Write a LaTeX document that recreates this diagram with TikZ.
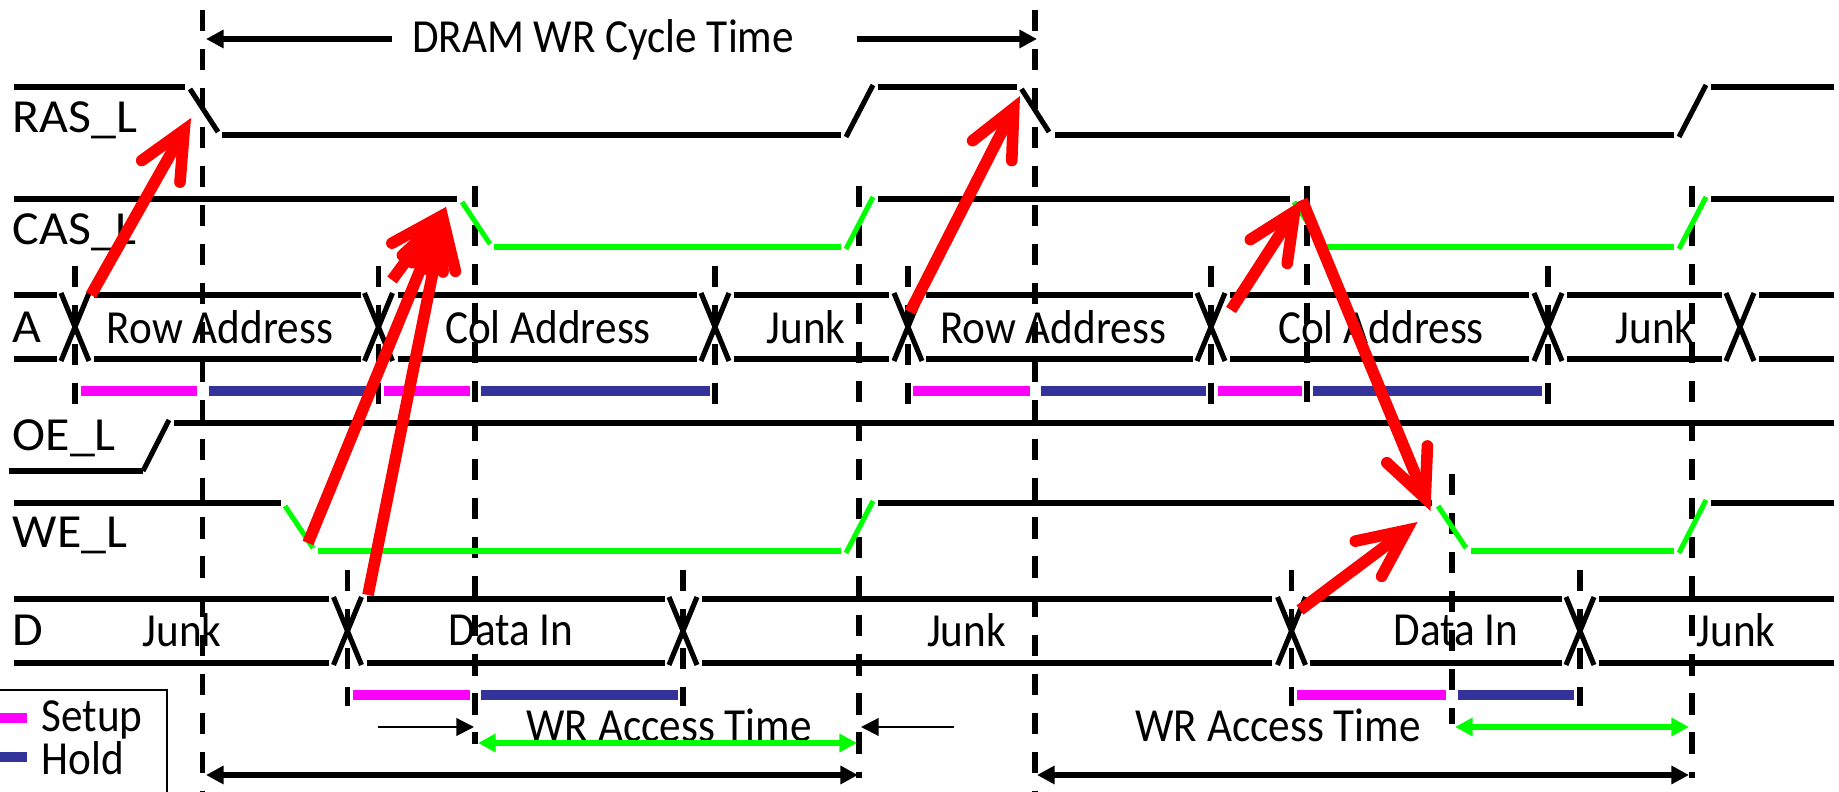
\documentclass[tikz,border=0pt]{standalone}
\usepackage{fontspec}
\setmainfont[FakeStretch=0.91]{Carlito}
\newfontfamily\namefont[FakeStretch=1.05]{Carlito}
\usetikzlibrary{arrows.meta}
\usetikzlibrary{positioning}
\definecolor{holdblue}{HTML}{333399}
\definecolor{setuppink}{HTML}{FF00FF}
\tikzset{
    level/.style={
           line width=1.6pt,
           },
    edgeline/.style={
           line width=1.45pt,
           },
    timeline/.style={
           line width=1.65pt,
           dash pattern=on 6pt off 5.1pt,
           },
    setupbar/.style={
           setuppink, line width=2.85pt,
           },
    holdbar/.style={
           holdblue, line width=2.85pt,
           },
    span/.style={
           line width=1.6pt,
           -{Triangle[length=5pt,width=5pt]},
           },
    bispan/.style={
           line width=1.6pt,
           {Triangle[length=5pt,width=5pt]}-{Triangle[length=5pt,width=5pt]},
           },
    causearrow/.style={
           red, line width=3.3pt,
           -{Straight Barb[length=13.5pt,width=12.5pt,line cap=round,line join=miter]},
           },
    caption/.style={
           inner sep=0pt,
           font=\fontsize{13.5}{15}\selectfont,
           },
    signame/.style={
           inner sep=0pt,
           anchor=west,
           font=\namefont\fontsize{13.5}{15}\selectfont,
           },
}
% crossing of a bus: tick pair between the top and bottom levels
\newcommand{\busX}[3]{
 \draw[edgeline] (#1-14,#2-2) -- (#1+14,#3+2);
 \draw[edgeline] (#1+14,#2-2) -- (#1-14,#3+2);
}

\begin{document}
\begin{tikzpicture}[x=0.01cm,y=-0.01cm]
 \useasboundingbox (0,0) rectangle (1839,792);

 % dashed time markers
 \draw[timeline] (202.5,10) -- (202.5,792);
 \draw[timeline] (475,186) -- (475,744);
 \draw[timeline] (859,186) -- (859,778);
 \draw[timeline] (1035,10) -- (1035,792);
 \draw[timeline] (1307,186) -- (1307,404);
 \draw[timeline] (1452,474) -- (1452,724);
 \draw[timeline] (1692,186) -- (1692,778);
 \draw[timeline] (75,266) -- (75,404);
 \draw[timeline] (378.5,266) -- (378.5,404);
 \draw[timeline] (715,266) -- (715,404);
 \draw[timeline] (908,266) -- (908,404);
 \draw[timeline] (1211,266) -- (1211,404);
 \draw[timeline] (1548,266) -- (1548,404);
 \draw[timeline] (347.5,570) -- (347.5,706);
 \draw[timeline] (683,570) -- (683,706);
 \draw[timeline] (1291.5,570) -- (1291.5,706);
 \draw[timeline] (1580,570) -- (1580,706);

 % signal names
 \node[signame] (RAS Name) at (12,120) {RAS\_L};
 \node[signame] (CAS Name) at (12,232) {CAS\_L};
 \node[signame] (A Name) at (12,327) {A};
 \node[signame] (OE Name) at (12,438) {OE\_L};
 \node[signame] (WE Name) at (12,535) {WE\_L};
 \node[signame] (D Name) at (12,630) {D};

 % RAS_L
 \draw[level] (13.5,87) -- (185,87);
 \draw[edgeline] (190,89) -- (218,132);
 \draw[level] (222,135) -- (841,135);
 \draw[edgeline] (846,137) -- (873,85);
 \draw[level] (878,87) -- (1017,87);
 \draw[edgeline] (1021.5,89) -- (1049,132);
 \draw[level] (1055,135) -- (1673.5,135);
 \draw[edgeline] (1679,137) -- (1706,85);
 \draw[level] (1711,87) -- (1834,87);

 % CAS_L
 \draw[level] (13.5,199) -- (456.5,199);
 \draw[edgeline,green] (462,202) -- (490,244);
 \draw[level,green] (494,247) -- (841,247);
 \draw[edgeline,green] (846,249) -- (873,197);
 \draw[level] (878,199) -- (1290,199);
 \draw[edgeline,green] (1294,202) -- (1322,244);
 \draw[level,green] (1327,247) -- (1673.5,247);
 \draw[edgeline,green] (1679,249) -- (1706,197);
 \draw[level] (1711,199) -- (1834,199);

 % A
 \foreach \ya in {295,359} {
  \draw[level] (13.5,\ya) -- (57,\ya);
  \draw[level] (94,\ya) -- (361,\ya);
  \draw[level] (398,\ya) -- (697,\ya);
  \draw[level] (733.5,\ya) -- (888.5,\ya);
  \draw[level] (926,\ya) -- (1193,\ya);
  \draw[level] (1230,\ya) -- (1529,\ya);
  \draw[level] (1567,\ya) -- (1721.5,\ya);
  \draw[level] (1759,\ya) -- (1834,\ya);
 }
 \busX{75}{295}{359}
 \busX{378.5}{295}{359}
 \busX{715}{295}{359}
 \busX{908}{295}{359}
 \busX{1211}{295}{359}
 \busX{1548}{295}{359}
 \busX{1740}{295}{359}
 \node[caption] (Row One) at (220,327) {Row Address};
 \node[caption] (Col One) at (548,327) {Col Address};
 \node[caption] (Junk One) at (806,327) {Junk};
 \node[caption] (Row Two) at (1053,327) {Row Address};
 \node[caption] (Col Two) at (1381,327) {Col Address};
 \node[caption] (Junk Two) at (1655,327) {Junk};

 % setup and hold under A
 \draw[setupbar] (80.5,391) -- (197,391);
 \draw[holdbar] (209,391) -- (374,391);
 \draw[setupbar] (384,391) -- (469.5,391);
 \draw[holdbar] (480.5,391) -- (710,391);
 \draw[setupbar] (912.5,391) -- (1030,391);
 \draw[holdbar] (1041,391) -- (1206,391);
 \draw[setupbar] (1217.5,391) -- (1302,391);
 \draw[holdbar] (1313,391) -- (1542,391);

 % OE_L
 \draw[level] (9,471) -- (142.5,471);
 \draw[edgeline] (143,471) -- (169,420);
 \draw[level] (174,423) -- (1834,423);

 % WE_L
 \draw[level] (13.5,503) -- (280.5,503);
 \draw[edgeline,green] (285,506) -- (313,548);
 \draw[level,green] (318,551) -- (841,551);
 \draw[edgeline,green] (846,553) -- (873,501);
 \draw[level] (878,503) -- (1432,503);
 \draw[edgeline,green] (1438,506) -- (1466,548);
 \draw[level,green] (1470.5,551) -- (1673.5,551);
 \draw[edgeline,green] (1679,553) -- (1706,500);
 \draw[level] (1711,503) -- (1834,503);

 % D
 \foreach \yd in {599,663} {
  \draw[level] (13.5,\yd) -- (328.5,\yd);
  \draw[level] (367,\yd) -- (665,\yd);
  \draw[level] (702,\yd) -- (1272,\yd);
  \draw[level] (1310,\yd) -- (1561.5,\yd);
  \draw[level] (1599,\yd) -- (1834,\yd);
 }
 \busX{347.5}{599}{663}
 \busX{683}{599}{663}
 \busX{1291.5}{599}{663}
 \busX{1580}{599}{663}
 \node[caption] (Junk Three) at (182,630) {Junk};
 \node[caption] (Data One) at (511,630) {Data In};
 \node[caption] (Junk Four) at (966.5,630) {Junk};
 \node[caption] (Data Two) at (1456,630) {Data In};
 \node[caption] (Junk Five) at (1736,630) {Junk};

 % setup and hold under D
 \draw[setupbar] (352.5,695) -- (469.5,695);
 \draw[holdbar] (480.5,695) -- (678,695);
 \draw[setupbar] (1297,695) -- (1446,695);
 \draw[holdbar] (1457.5,695) -- (1574,695);

 % legend
 \draw[line width=0.45pt] (0,690) -- (167,690) -- (167,792);
 \draw[setupbar] (0,718) -- (27,718);
 \draw[holdbar] (0,757) -- (27,757);
 \node[caption,anchor=west] (Setup Name) at (41,720) {Setup};
 \node[caption,anchor=west] (Hold Name) at (41,758) {Hold};

 % cycle and access times
 \node[caption] (Cycle Label) at (603,40) {DRAM WR Cycle Time};
 \node[caption] (Access One) at (669,725) {WR Access Time};
 \node[caption] (Access Two) at (1278,725) {WR Access Time};

 \coordinate (Cycle Left) at (206,39);
 \coordinate (Cycle Left End) at (392,39);
 \coordinate (Cycle Right) at (1037,39);
 \coordinate (Cycle Right End) at (857,39);
 \draw[span] (Cycle Left End) -- (Cycle Left);
 \draw[span] (Cycle Right End) -- (Cycle Right);

 \coordinate (Low One) at (206,775);
 \coordinate (Low Two) at (858,775);
 \coordinate (Low Three) at (1037,775);
 \coordinate (Low Four) at (1689,775);
 \draw[bispan] (Low One) -- (Low Two);
 \draw[bispan] (Low Three) -- (Low Four);

 \coordinate (Green One) at (478,743);
 \coordinate (Green Two) at (857,743);
 \coordinate (Green Three) at (1455,727);
 \coordinate (Green Four) at (1689,727);
 \draw[bispan,green] (Green One) -- (Green Two);
 \draw[bispan,green] (Green Three) -- (Green Four);

 \coordinate (Thin One) at (378,727);
 \coordinate (Thin Two) at (474,727);
 \coordinate (Thin Three) at (954,727);
 \coordinate (Thin Four) at (861,727);
 \draw[span,line width=0.6pt] (Thin One) -- (Thin Two);
 \draw[span,line width=0.6pt] (Thin Three) -- (Thin Four);

 % red cause and effect arrows
 \coordinate (Ras Fall One) at (191,118);
 \coordinate (Ras Fall Two) at (1020,96);
 \coordinate (Cas Fall One) at (446,207);
 \coordinate (Cas Fall Two) at (1302,200);
 \coordinate (We Fall) at (1430.5,511);
 \coordinate (We Near) at (1417.5,522);
 \draw[causearrow] (91,295) -- (Ras Fall One);
 \draw[causearrow] (392,280) -- (Cas Fall One);
 \draw[causearrow] (308,543) -- (Cas Fall One);
 \draw[causearrow] (368,595) -- (Cas Fall One);
 \draw[causearrow] (910,312) -- (Ras Fall Two);
 \draw[causearrow] (1231,310) -- (Cas Fall Two);
 \draw[causearrow] (Cas Fall Two) -- (We Fall);
 \draw[causearrow] (1300,610) -- (We Near);

\end{tikzpicture}
\end{document}
